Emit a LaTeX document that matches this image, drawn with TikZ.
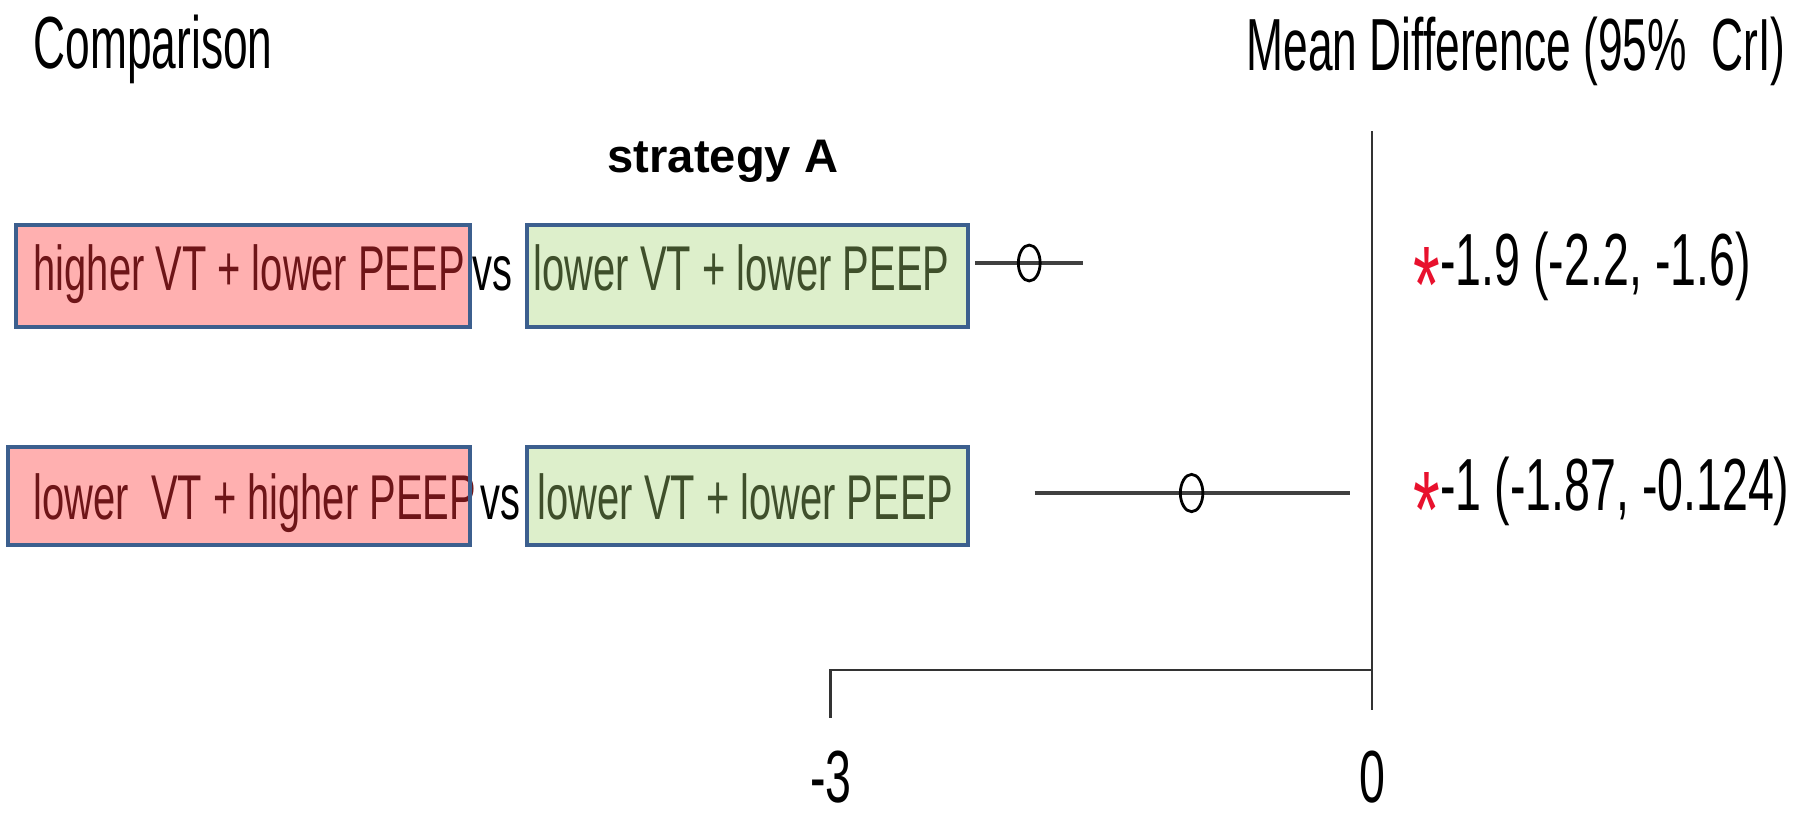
\documentclass[tikz,border=0pt]{standalone}
\usepackage{fontspec}
\setmainfont{Liberation Sans}
\newfontfamily\narrowsf[FakeStretch=0.63]{Liberation Sans}
\newfontfamily\narrowhdr[FakeStretch=0.6]{Liberation Sans}
\usepackage{xcolor}
\usepackage{tikz}
\usetikzlibrary{calc}
\definecolor{redfill}{HTML}{FFB0B0}
\definecolor{redtext}{HTML}{6E1518}
\definecolor{greenfill}{HTML}{DDEFCB}
\definecolor{greentext}{HTML}{3F4F2B}
\definecolor{boxline}{HTML}{3C5F8E}
\definecolor{starred}{HTML}{E8112D}
\newcommand{\mdpos}[1]{1372+180.4*(#1)}
\newcommand{\mdstar}{{\color{starred}\fontsize{31pt}{31pt}\selectfont\raisebox{-10.6pt}{*}}}

\begin{document}
\begin{tikzpicture}[x=0.01cm,y=-0.01cm,
  txt/.style={anchor=base west,inner sep=0pt,font=\narrowsf\fontsize{18pt}{20pt}\selectfont},
  hdr/.style={anchor=base west,inner sep=0pt,font=\narrowhdr\fontsize{21pt}{24pt}\selectfont},
  num/.style={inner sep=0pt,font=\narrowsf\fontsize{21pt}{24pt}\selectfont},
  ci/.style={draw=black!75,line width=0.9pt},
  axis/.style={draw=black!80,line width=0.8pt}]
  \useasboundingbox (0,0) rectangle (1793,817);
  % headers
  \node[hdr] (cmp) at (33,68) {Comparison};
  \node[hdr] (mdhead) at (1246,70) {Mean Difference (95\%\ \ CrI)};
  \node[anchor=base,inner sep=0pt,font=\bfseries\fontsize{13.4pt}{15pt}\selectfont] (strat) at (723,172) {strategy A};
  % comparison boxes
  \fill[redfill] (16,225) rectangle (470,327);
  \fill[greenfill] (527,225) rectangle (968,327);
  \fill[redfill] (8,447) rectangle (470,545);
  \fill[greenfill] (527,447) rectangle (968,545);
  \node[txt,text=redtext] (hvlp) at (33,290) {higher VT + lower PEEP};
  \node[txt] (vsa) at (472,290) {vs};
  \node[txt,text=greentext] (lvlpa) at (533,290) {lower VT + lower PEEP};
  \node[txt,text=redtext] (lvhp) at (33,519) {lower\ \ VT + higher PEEP};
  \node[txt] (vsb) at (480,519) {vs};
  \node[txt,text=greentext] (lvlpb) at (537,519) {lower VT + lower PEEP};
  \draw[boxline,line width=1.4pt] (16,225) rectangle (470,327);
  \draw[boxline,line width=1.4pt] (527,225) rectangle (968,327);
  \draw[boxline,line width=1.4pt] (8,447) rectangle (470,545);
  \draw[boxline,line width=1.4pt] (527,447) rectangle (968,545);
  % intervals
  \draw[ci] ({\mdpos{-2.2}},263) -- ({\mdpos{-1.6}},263);
  \draw[black,line width=0.8pt] ({\mdpos{-1.9}},263) ellipse [x radius=3.1pt,y radius=5.1pt];
  \draw[ci] ({\mdpos{-1.87}},493) -- ({\mdpos{-0.124}},493);
  \draw[black,line width=0.8pt] ({\mdpos{-1}},493) ellipse [x radius=3.2pt,y radius=5.3pt];
  % axis
  \coordinate (top) at ({\mdpos{0}},131);
  \coordinate (zero) at ({\mdpos{0}},670);
  \coordinate (low) at ({\mdpos{-3}},670);
  \draw[axis] (top) -- ({\mdpos{0}},710);
  \draw[axis] (zero) -- (low) -- ({\mdpos{-3}},718);
  \node[num,anchor=base] (tickm3) at ({\mdpos{-3}},802) {-3};
  \node[num,anchor=base] (tick0) at ({\mdpos{0}},802) {0};
  % estimates
  \node[num,anchor=base west] (mda) at (1413,285) {\mdstar-1.9 (-2.2, -1.6)};
  \node[num,anchor=base west] (mdb) at (1413,510) {\mdstar-1 (-1.87, -0.124)};
\end{tikzpicture}
\end{document}
